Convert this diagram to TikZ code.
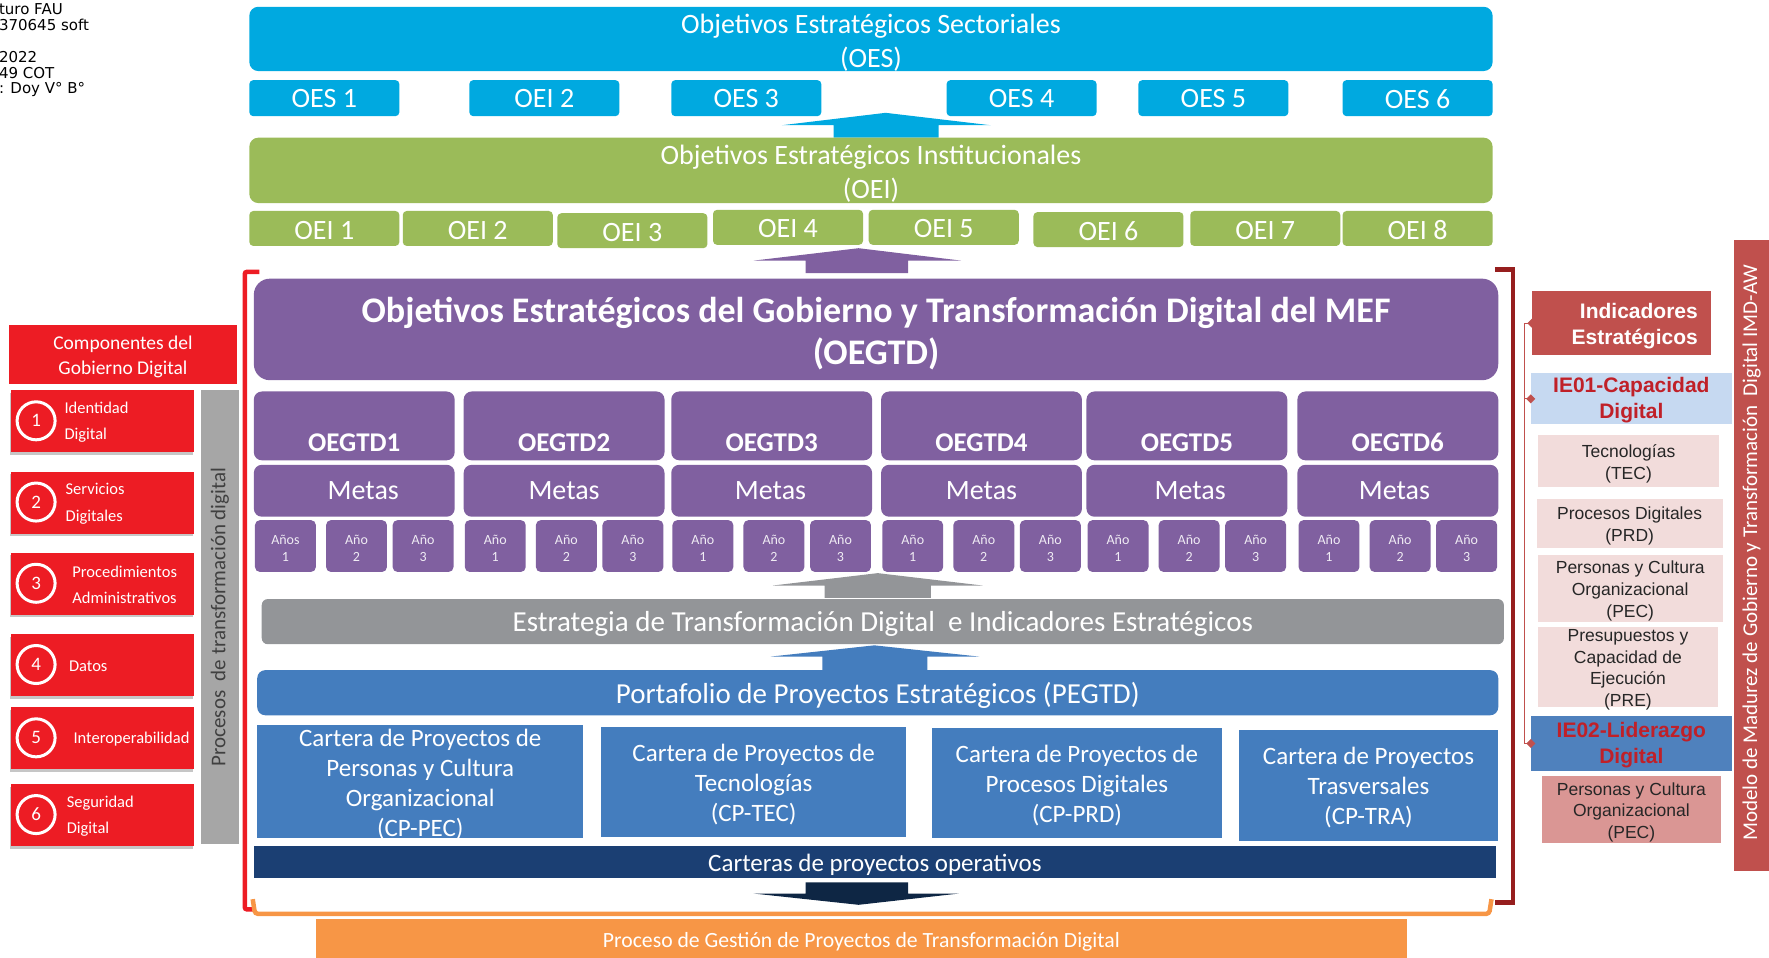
\documentclass[tikz,border=0pt]{standalone}
\usepackage{fontspec}
\setmainfont{Carlito}
\newfontfamily\arialfont{Liberation Sans}
\newfontfamily\stampfont{DejaVu Sans}
\usetikzlibrary{fit,arrows.meta,shadows}

\definecolor{oescyan}{RGB}{0,169,224}
\definecolor{oeigreen}{RGB}{155,187,89}
\definecolor{gtpurple}{RGB}{128,96,160}
\definecolor{etgray}{RGB}{147,149,152}
\definecolor{pfblue}{RGB}{68,125,190}
\definecolor{opnavy}{RGB}{27,63,115}
\definecolor{arrnavy}{RGB}{14,38,68}
\definecolor{pgorange}{RGB}{247,150,70}
\definecolor{cgred}{RGB}{237,28,36}
\definecolor{ptgray}{RGB}{166,166,166}
\definecolor{iered}{RGB}{192,80,77}
\definecolor{ielblue}{RGB}{198,217,241}
\definecolor{ieblue}{RGB}{79,129,189}
\definecolor{iepink}{RGB}{242,220,219}
\definecolor{iepinkd}{RGB}{218,150,148}
\definecolor{ietext}{RGB}{192,32,40}
\definecolor{brkred}{RGB}{150,30,30}

\begin{document}
\begin{tikzpicture}[x=1.128pt, y=-1.128pt,
    box/.style={inner sep=0pt},
    big/.style={box, rounded corners=9pt},
    small/.style={box, rounded corners=4pt},
    gtd/.style={box, fill=gtpurple, rounded corners=8pt},
    txt/.style={align=center, text=white, inner sep=0pt, yshift=-2.6pt},
    t28/.style={txt, font=\fontsize{28}{34}\selectfont},
    t29/.style={txt, font=\fontsize{29}{34}\selectfont},
    t25/.style={txt, font=\fontsize{25}{30}\selectfont},
    tano/.style={txt, text=white!88!gtpurple, font=\fontsize{14}{17}\selectfont},
    tpink/.style={txt, text=black!85, font=\arialfont\fontsize{17.5}{21.6}\selectfont},
    tie/.style={txt, text=ietext, font=\arialfont\bfseries\fontsize{21}{26}\selectfont},
    ano/.style={box, fill=gtpurple, rounded corners=5pt},
    cartera/.style={box, fill=pfblue},
    cgbox/.style={box, fill=cgred, drop shadow={shadow xshift=-1pt, shadow yshift=-2.5pt, opacity=.45}},
    cgnum/.style={circle, draw=white, line width=3pt, fill=cgred, text=white, minimum size=38pt, inner sep=0pt, font=\fontsize{19}{19}\selectfont},
    cgtxt/.style={inner sep=0pt, align=left, text=white, font=\fontsize{16.5}{26}\selectfont},
    pink/.style={box, fill=iepink},
    ieline/.style={draw=iered, line width=1.3pt},
    brk/.style={line width=4.5pt}
  ]
  \useasboundingbox (0,0) rectangle (1568,849);

  % stamp left over at the top left
  \node[anchor=north west, inner sep=0pt, align=left, font=\stampfont\fontsize{15}{15.8}\selectfont] (stamp) at (-1,3.4)
    {turo FAU\\370645 soft\\\mbox{}\\2022\\49 COT\\: Doy V° B°};

  % sectoral and institutional objectives
  \node[big, fill=oescyan, fit={(221,6) (1323,63)},
    label={[t28, yshift=-1pt]center:Objetivos Estratégicos Sectoriales\\(OES)}] (oes) {};
  \foreach \x/\t [count=\i] in {221/OES 1, 416/OEI 2, 595/OES 3, 839/OES 4, 1009/OES 5, 1190/OES 6}
    \node[small, fill=oescyan, fit={(\x,71) ({\x+133},103)}, label={[t28, yshift=2pt]center:\t}] (oes\i) {};
  \fill[oescyan] (739,122) -- (739,111) -- (693,111) -- (785,100) -- (878,111) -- (832,111) -- (832,122) -- cycle;

  \node[big, fill=oeigreen, fit={(221,122) (1323,180)},
    label={[t28, yshift=-1pt]center:Objetivos Estratégicos Institucionales\\(OEI)}] (oei) {};
  \foreach \x/\y [count=\i] in {221/187, 357/187, 494/189, 632/186, 770/186, 916/188, 1055/187, 1190/187}
    \node[small, fill=oeigreen, fit={(\x,\y) ({\x+133},{\y+31})}, label={[t28, yshift=1pt]center:OEI \i}] (oei\i) {};
  \fill[gtpurple] (714,242) -- (714,231) -- (668,231) -- (761,220) -- (852,231) -- (805,231) -- (805,242) -- cycle;

  % brackets
  \draw[brk, cgred, rounded corners=2pt] (230,241) -- (217,241) -- (217,806) -- (226,806);
  \draw[brk, pgorange, rounded corners=3pt] (224,797) -- (226,810) -- (1320,810) -- (1322,797);
  \draw[brk, brkred] (1325,239) -- (1341,239) -- (1341,800) -- (1325,800);

  % OEGTD
  \node[gtd, rounded corners=16pt, fit={(225,247) (1328,337)},
    label={[txt, yshift=-2pt, font=\bfseries\fontsize{36}{42}\selectfont]center:Objetivos Estratégicos del Gobierno y Transformación Digital del MEF\\(OEGTD)}] (gtd) {};
  \foreach \x/\mx [count=\i] in {314/322,500/500,684/683,870/870,1052/1055,1239/1236} {
    \node[gtd, fit={({\x-89},347) ({\x+89},408)}] (g\i) {};
    \node[txt, yshift=3.6pt, font=\bfseries\fontsize{27}{27}\selectfont] (g\i-t) at (\x,393) {OEGTD\i};
    \node[gtd, fit={({\x-89},412) ({\x+89},458)}] (m\i) {};
    \node[t28, yshift=2.6pt] (m\i-t) at (\mx,435) {Metas};
    \foreach \d [count=\k] in {-61,2,61}
      \node[ano, fit={({\x+\d-27},461) ({\x+\d+27},507)},
        label={[tano]center:\ifnum\i\k=11 Años\else Año\fi\\\k}] (a\i-\k) {};
  }
  \fill[etgray] (731,530) -- (731,519) -- (685,519) -- (778,508) -- (871,519) -- (825,519) -- (825,530) -- cycle;

  \node[box, fill=etgray, rounded corners=6pt, fit={(232,531) (1333,571)},
    label={[t29]center:Estrategia de Transformación Digital\ \ e Indicadores Estratégicos}] (etd) {};
  \fill[pfblue] (729,594) -- (729,582) -- (683,582) -- (775,572) -- (868,582) -- (822,582) -- (822,594) -- cycle;

  % portfolio
  \node[box, fill=pfblue, rounded corners=8pt, fit={(228,594) (1328,634)},
    label={[t29]center:Portafolio de Proyectos Estratégicos (PEGTD)}] (pegtd) {};
  \node[cartera, fit={(228,643) (517,743)},
    label={[t25]center:Cartera de Proyectos de\\Personas y Cultura\\Organizacional\\(CP-PEC)}] (cppec) {};
  \node[cartera, fit={(533,644) (803,742)},
    label={[t25]center:Cartera de Proyectos de\\Tecnologías\\(CP-TEC)}] (cptec) {};
  \node[cartera, fit={(826,645) (1083,743)},
    label={[t25]center:Cartera de Proyectos de\\Procesos Digitales\\(CP-PRD)}] (cpprd) {};
  \node[cartera, fit={(1098,647) (1328,745)},
    label={[t25]center:Cartera de Proyectos\\Trasversales\\(CP-TRA)}] (cptra) {};
  \node[box, fill=opnavy, fit={(225,750) (1326,778)},
    label={[t25]center:Carteras de proyectos operativos}] (oper) {};
  \fill[arrnavy] (714,782) -- (805,782) -- (805,792) -- (850,792) -- (761,802) -- (668,792) -- (714,792) -- cycle;
  \node[box, fill=pgorange, fit={(280,815) (1247,850)},
    label={[txt, font=\fontsize{21.7}{26}\selectfont]center:Proceso de Gestión de Proyectos de Transformación Digital}] (gest) {};

  % components on the left
  \node[box, fill=cgred, fit={(8,288) (210,340)},
    label={[txt, font=\fontsize{19.5}{25}\selectfont]center:Componentes del\\Gobierno Digital}] (comp) {};
  \foreach \y/\tx/\t [count=\i] in {346/57/{Identidad\\Digital}, 418/58/{Servicios\\Digitales}, 490/64/{Procedimientos\\Administrativos},
      562/61/{Datos}, 627/65/{Interoperabilidad}, 695/59/{Seguridad\\Digital}} {
    \node[cgbox, fit={(10,\y) (172,{\y+55})}] (cg\i) {};
    \node[cgnum] (n\i) at (32,{\y+27}) {\i};
    \node[cgtxt, anchor=west] (ct\i) at (\tx,{\y+28.5}) {\t};
  }
  \node[box, fill=ptgray, fit={(178,346) (212,748)}] (proc) {};
  \node[rotate=90, text=black!75, font=\fontsize{21}{21}\selectfont] (proc-t) at (195,547) {Procesos\ \ de transformación digital};

  % indicators on the right
  \node[box, fill=iered, fit={(1358,258) (1517,315)},
    label={[txt, text width=152pt, align=right, font=\arialfont\bfseries\fontsize{21}{26}\selectfont]center:Indicadores\\Estratégicos}] (ind) {};
  \node[box, fill=ielblue, fit={(1357,331) (1535,376)}, label={[tie, yshift=1pt]center:IE01-Capacidad\\Digital}] (ie1) {};
  \node[pink, fit={(1363,386) (1524,432)}, label={[tpink]center:Tecnologías\\(TEC)}] (tec) {};
  \node[pink, fit={(1362,442) (1527,486)}, label={[tpink]center:Procesos Digitales\\(PRD)}] (prd) {};
  \node[pink, fit={(1363,492) (1527,551)}, label={[tpink]center:Personas y Cultura\\Organizacional\\(PEC)}] (pec) {};
  \node[pink, fit={(1363,556) (1523,627)}, label={[tpink]center:Presupuestos y\\Capacidad de\\Ejecución\\(PRE)}] (pre) {};
  \node[box, fill=ieblue, fit={(1357,635) (1535,683)}, label={[tie, yshift=1pt]center:IE02-Liderazgo\\Digital}] (ie2) {};
  \node[pink, fill=iepinkd, fit={(1367,688) (1525,747)}, label={[tpink]center:Personas y Cultura\\Organizacional\\(PEC)}] (pec2) {};
  \coordinate (ibr) at (1351,0);
  \draw[ieline, {Diamond[length=9pt,width=9pt]}-{Diamond[length=9pt,width=9pt]}, shorten <=-4.5pt, shorten >=-4.5pt]
    (ind.west) -- (ibr |- ind.west) -- (ibr |- ie2.west) -- (ie2.west);
  \draw[ieline, -{Diamond[length=9pt,width=9pt]}, shorten >=-4.5pt] (ibr |- ie1.west) -- (ie1.west);

  \node[box, fill=iered, fit={(1537,213) (1568,772)}] (imd) {};
  \node[rotate=90, text=white, font=\fontsize{21}{21}\selectfont] (imd-t) at (1552.5,490)
    {Modelo de Madurez de Gobierno y Transformación\ \ Digital IMD-AW};
\end{tikzpicture}
\end{document}
